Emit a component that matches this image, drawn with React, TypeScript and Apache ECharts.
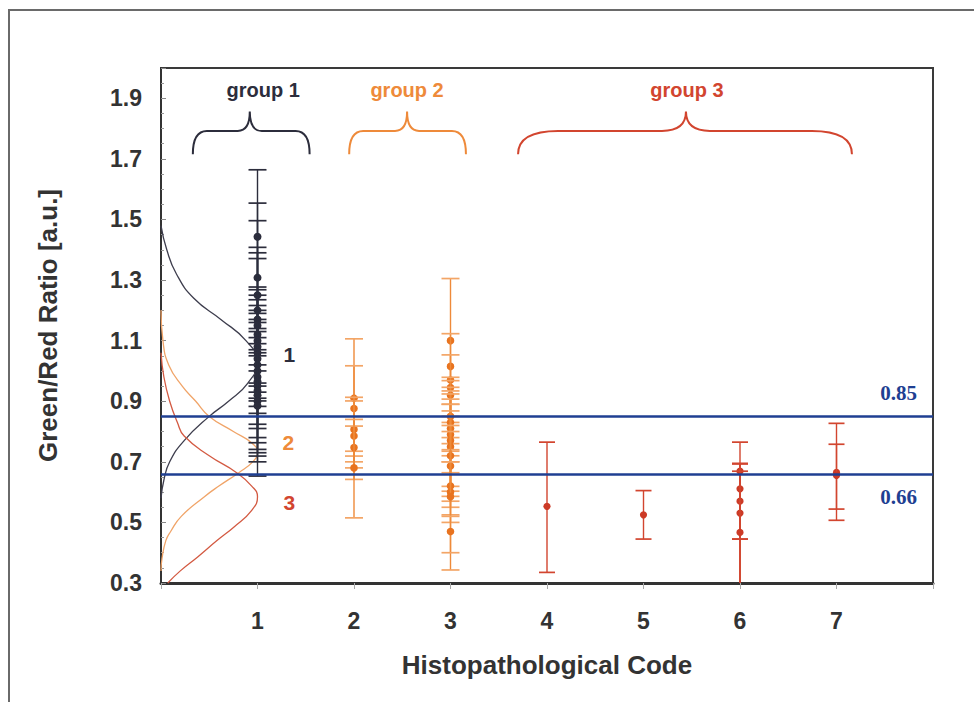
import React, { useEffect, useRef } from 'react';
import * as echarts from 'echarts';

// ---- data ----
const xCodes = [1, 2, 3, 4, 5, 6, 7];
const yTickLabels = ['0.3', '0.5', '0.7', '0.9', '1.1', '1.3', '1.5', '1.7', '1.9'];
const thresholds = [0.85, 0.66];

// [histopathological code, mean ratio, lower, upper]
const group1Bars = [
  [1, 1.443, 1.216, 1.664],
  [1, 1.308, 1.05, 1.554],
  [1, 1.25, 1.0, 1.496],
  [1, 1.2, 1.02, 1.408],
  [1, 1.17, 0.95, 1.39],
  [1, 1.15, 0.93, 1.371],
  [1, 1.12, 0.96, 1.277],
  [1, 1.1, 0.901, 1.268],
  [1, 1.08, 0.91, 1.25],
  [1, 1.06, 0.883, 1.235],
  [1, 1.04, 0.86, 1.2],
  [1, 1.02, 0.824, 1.19],
  [1, 1.0, 0.81, 1.17],
  [1, 0.98, 0.78, 1.16],
  [1, 0.965, 0.763, 1.14],
  [1, 0.95, 0.741, 1.13],
  [1, 0.935, 0.73, 1.11],
  [1, 0.92, 0.719, 1.09],
  [1, 0.9, 0.653, 1.07],
  [1, 0.885, 0.7, 1.06],
];
const group2Bars = [
  [2, 0.91, 0.719, 1.106],
  [2, 0.876, 0.735, 1.017],
  [2, 0.807, 0.642, 0.901],
  [2, 0.785, 0.7, 0.913],
  [2, 0.747, 0.68, 0.818],
  [2, 0.68, 0.515, 0.84],
  [3, 1.1, 0.89, 1.305],
  [3, 1.015, 0.735, 1.123],
  [3, 0.97, 0.664, 1.053],
  [3, 0.945, 0.83, 0.979],
  [3, 0.92, 0.78, 0.968],
  [3, 0.85, 0.76, 0.946],
  [3, 0.83, 0.72, 0.934],
  [3, 0.81, 0.7, 0.924],
  [3, 0.79, 0.619, 0.907],
  [3, 0.77, 0.603, 0.89],
  [3, 0.75, 0.586, 0.868],
  [3, 0.72, 0.57, 0.85],
  [3, 0.686, 0.525, 0.82],
  [3, 0.62, 0.55, 0.74],
  [3, 0.6, 0.343, 0.8],
  [3, 0.585, 0.5, 0.7],
  [3, 0.47, 0.4, 0.52],
];
const group3Bars = [
  [4, 0.553, 0.335, 0.765],
  [5, 0.525, 0.445, 0.605],
  [6, 0.669, 0.445, 0.694],
  [6, 0.611, 0.445, 0.765],
  [6, 0.57, 0.28, 0.694],
  [6, 0.531, 0.27, 0.669],
  [6, 0.467, 0.25, 0.694],
  [7, 0.665, 0.507, 0.827],
  [7, 0.655, 0.544, 0.758],
];

// distribution curves: [relative frequency (x units), ratio]
const dist1 = [
  [0.0, 1.48], [0.06, 1.4], [0.16, 1.32], [0.34, 1.24], [0.62, 1.17], [0.88, 1.1],
  [1.0, 1.03], [0.9, 0.96], [0.7, 0.9], [0.5, 0.85], [0.24, 0.77], [0.09, 0.7],
  [0.03, 0.64], [0.0, 0.58],
];
const dist2 = [
  [0.0, 1.2], [0.02, 1.1], [0.08, 1.02], [0.22, 0.95], [0.36, 0.9], [0.5, 0.85],
  [0.75, 0.8], [0.95, 0.76], [1.0, 0.73], [0.95, 0.7], [0.81, 0.665], [0.6, 0.62],
  [0.45, 0.585], [0.21, 0.52], [0.1, 0.47], [0.05, 0.44], [0.01, 0.38], [0.0, 0.34],
];
const dist3 = [
  [0.0, 1.06], [0.03, 0.98], [0.09, 0.9], [0.17, 0.83], [0.24, 0.785], [0.5, 0.72],
  [0.78, 0.665], [0.94, 0.62], [1.0, 0.585], [0.94, 0.54], [0.76, 0.486], [0.58, 0.44],
  [0.38, 0.386], [0.2, 0.34], [0.07, 0.3],
];

const groupNames = ['group 1', 'group 2', 'group 3'];
// brace extents along the code axis: [start, tip, end, label x]
const braceSpans = [
  [0.33, 0.92, 1.54, 1.06],
  [1.95, 2.55, 3.16, 2.55],
  [3.7, 5.44, 7.16, 5.45],
];
const curveLabels = ['1', '2', '3'];
const curveLabelPos = [
  [1.33, 1.053],
  [1.32, 0.764],
  [1.33, 0.565],
];

const DARK = '#2c2d3c';
const ORANGE = '#ee8a3a';
const ORANGE_LIGHT = '#f3a566';
const RED = '#d2452f';
const BLUE = '#1f3f92';
const groupColors = [DARK, ORANGE, RED];

function errorSeries(data: number[][], line: string, cap: string, dot: string, capW: number, r: number) {
  return {
    type: 'custom',
    clip: true,
    z: 4,
    data,
    renderItem: (_p: any, api: any) => {
      const x = api.value(0);
      const m = api.value(1);
      const lo = api.value(2);
      const hi = api.value(3);
      const a = api.coord([x, hi]);
      const b = api.coord([x, lo]);
      const c = api.coord([x, m]);
      return {
        type: 'group',
        children: [
          { type: 'line', shape: { x1: a[0], y1: a[1], x2: b[0], y2: b[1] }, style: { stroke: line, lineWidth: 1.4 } },
          { type: 'line', shape: { x1: a[0] - capW, y1: a[1], x2: a[0] + capW, y2: a[1] }, style: { stroke: cap, lineWidth: 1.7 } },
          { type: 'line', shape: { x1: b[0] - capW, y1: b[1], x2: b[0] + capW, y2: b[1] }, style: { stroke: cap, lineWidth: 1.7 } },
          { type: 'circle', shape: { cx: c[0], cy: c[1], r }, style: { fill: dot } },
        ],
      };
    },
  };
}

export default function App() {
  const ref = useRef<HTMLDivElement>(null);
  useEffect(() => {
    if (!ref.current) return;
    const chart = echarts.init(ref.current, undefined, { renderer: 'svg' });
    const font = 'Liberation Sans, Arial, sans-serif';

    const braceData = braceSpans.map((s, i) => [s[0], s[1], s[2], s[3], i]);

    const option: any = {
      animation: false,
      backgroundColor: '#ffffff',
      graphic: [
        {
          type: 'rect',
          shape: { x: 9, y: 10, width: 1100, height: 1000 },
          style: { fill: 'none', stroke: '#6a6a6a', lineWidth: 2 },
          silent: true,
        },
      ],
      grid: {
        left: 161,
        right: 41,
        top: 68,
        bottom: 119,
        show: true,
        borderColor: '#3a3a3a',
        borderWidth: 2,
      },
      xAxis: {
        type: 'value',
        min: 0,
        max: 8,
        interval: 1,
        name: 'Histopathological Code',
        nameLocation: 'middle',
        nameGap: 69,
        nameTextStyle: { fontFamily: font, fontWeight: 'bold', fontSize: 26, color: '#333' },
        axisLine: { show: true, lineStyle: { color: '#333', width: 3 } },
        axisTick: { show: true, length: 6, lineStyle: { color: '#aaa' } },
        splitLine: { show: false },
        axisLabel: {
          margin: 26,
          fontFamily: font,
          fontWeight: 'bold',
          fontSize: 23,
          color: '#333',
          formatter: (v: number) => (xCodes.indexOf(v) >= 0 ? String(v) : ''),
        },
      },
      yAxis: {
        type: 'value',
        min: 0.3,
        max: 2.0,
        interval: 0.2,
        name: 'Green/Red Ratio [a.u.]',
        nameLocation: 'middle',
        nameGap: 100,
        nameTextStyle: { fontFamily: font, fontWeight: 'bold', fontSize: 26, color: '#333' },
        axisLine: { show: true, lineStyle: { color: '#333', width: 2 } },
        axisTick: { show: true, inside: true, length: 5, lineStyle: { color: '#888' } },
        minorTick: { show: true, splitNumber: 4, length: 3, lineStyle: { color: '#999' } },
        splitLine: { show: false },
        axisLabel: {
          margin: 19,
          fontFamily: font,
          fontWeight: 'bold',
          fontSize: 23,
          color: '#333',
          formatter: (v: number) => {
            const s = v.toFixed(1);
            return yTickLabels.indexOf(s) >= 0 ? s : '';
          },
        },
      },
      series: [
        {
          type: 'line',
          data: dist1,
          smooth: 0.5,
          showSymbol: false,
          clip: true,
          lineStyle: { color: '#3d3d4d', width: 1.3 },
          z: 2,
        },
        {
          type: 'line',
          data: dist2,
          smooth: 0.5,
          showSymbol: false,
          clip: true,
          lineStyle: { color: '#f0a468', width: 1.3 },
          z: 2,
        },
        {
          type: 'line',
          data: dist3,
          smooth: 0.5,
          showSymbol: false,
          clip: true,
          lineStyle: { color: '#d35a42', width: 1.3 },
          z: 2,
        },
        errorSeries(group1Bars, DARK, DARK, DARK, 9, 4),
        errorSeries(group2Bars, ORANGE, ORANGE_LIGHT, '#e8731f', 9, 3.8),
        errorSeries(group3Bars, RED, RED, '#cc3a26', 8, 3.6),
        {
          type: 'line',
          data: [],
          z: 10,
          markLine: {
            silent: true,
            symbol: ['none', 'none'],
            lineStyle: { color: BLUE, width: 2.6, type: 'solid' },
            data: thresholds.map((v, i) => ({
              yAxis: v,
              label: {
                show: true,
                position: i === 0 ? 'insideEndTop' : 'insideEndBottom',
                distance: [16, 13],
                formatter: v.toFixed(2),
                fontFamily: 'Liberation Serif, Times New Roman, serif',
                fontWeight: 'bold',
                fontSize: 21,
                color: BLUE,
              },
            })),
          },
        },
        {
          type: 'custom',
          z: 5,
          clip: false,
          data: braceData,
          renderItem: (_p: any, api: any) => {
            const s = api.value(0);
            const t = api.value(1);
            const e = api.value(2);
            const lx = api.value(3);
            const gi = api.value(4);
            const left = api.coord([s, 1.715]);
            const right = api.coord([e, 1.715]);
            const tip = api.coord([t, 1.856]);
            const yh = api.coord([t, 1.792])[1];
            const lab = api.coord([lx, 1.926]);
            const big = e - s > 2;
            const r = big ? 40 : 14;
            const r2 = big ? 24 : 12;
            const d =
              `M${left[0]},${left[1]} Q${left[0]},${yh} ${left[0] + r},${yh} ` +
              `L${tip[0] - r2},${yh} Q${tip[0]},${yh} ${tip[0]},${tip[1]} ` +
              `Q${tip[0]},${yh} ${tip[0] + r2},${yh} L${right[0] - r},${yh} ` +
              `Q${right[0]},${yh} ${right[0]},${right[1]}`;
            const col = groupColors[gi];
            return {
              type: 'group',
              children: [
                { type: 'path', shape: { pathData: d }, style: { fill: 'none', stroke: col, lineWidth: 2 } },
                {
                  type: 'text',
                  x: lab[0],
                  y: lab[1],
                  style: {
                    text: groupNames[gi],
                    fill: col,
                    font: `bold 20px ${font}`,
                    textAlign: 'center',
                    textVerticalAlign: 'middle',
                  },
                },
              ],
            };
          },
        },
        {
          type: 'custom',
          z: 6,
          clip: false,
          data: curveLabelPos.map((p, i) => [p[0], p[1], i]),
          renderItem: (_p: any, api: any) => {
            const i = api.value(2);
            const pt = api.coord([api.value(0), api.value(1)]);
            return {
              type: 'text',
              x: pt[0],
              y: pt[1],
              style: {
                text: curveLabels[i],
                fill: groupColors[i],
                font: `bold 21px ${font}`,
                textAlign: 'center',
                textVerticalAlign: 'middle',
              },
            };
          },
        },
      ],
    };
    chart.setOption(option);
    return () => chart.dispose();
  }, []);
  return (
    <div
      ref={ref}
      style={{ position: 'fixed', left: 0, top: 0, width: 974, height: 702, background: '#fff' }}
    />
  );
}
